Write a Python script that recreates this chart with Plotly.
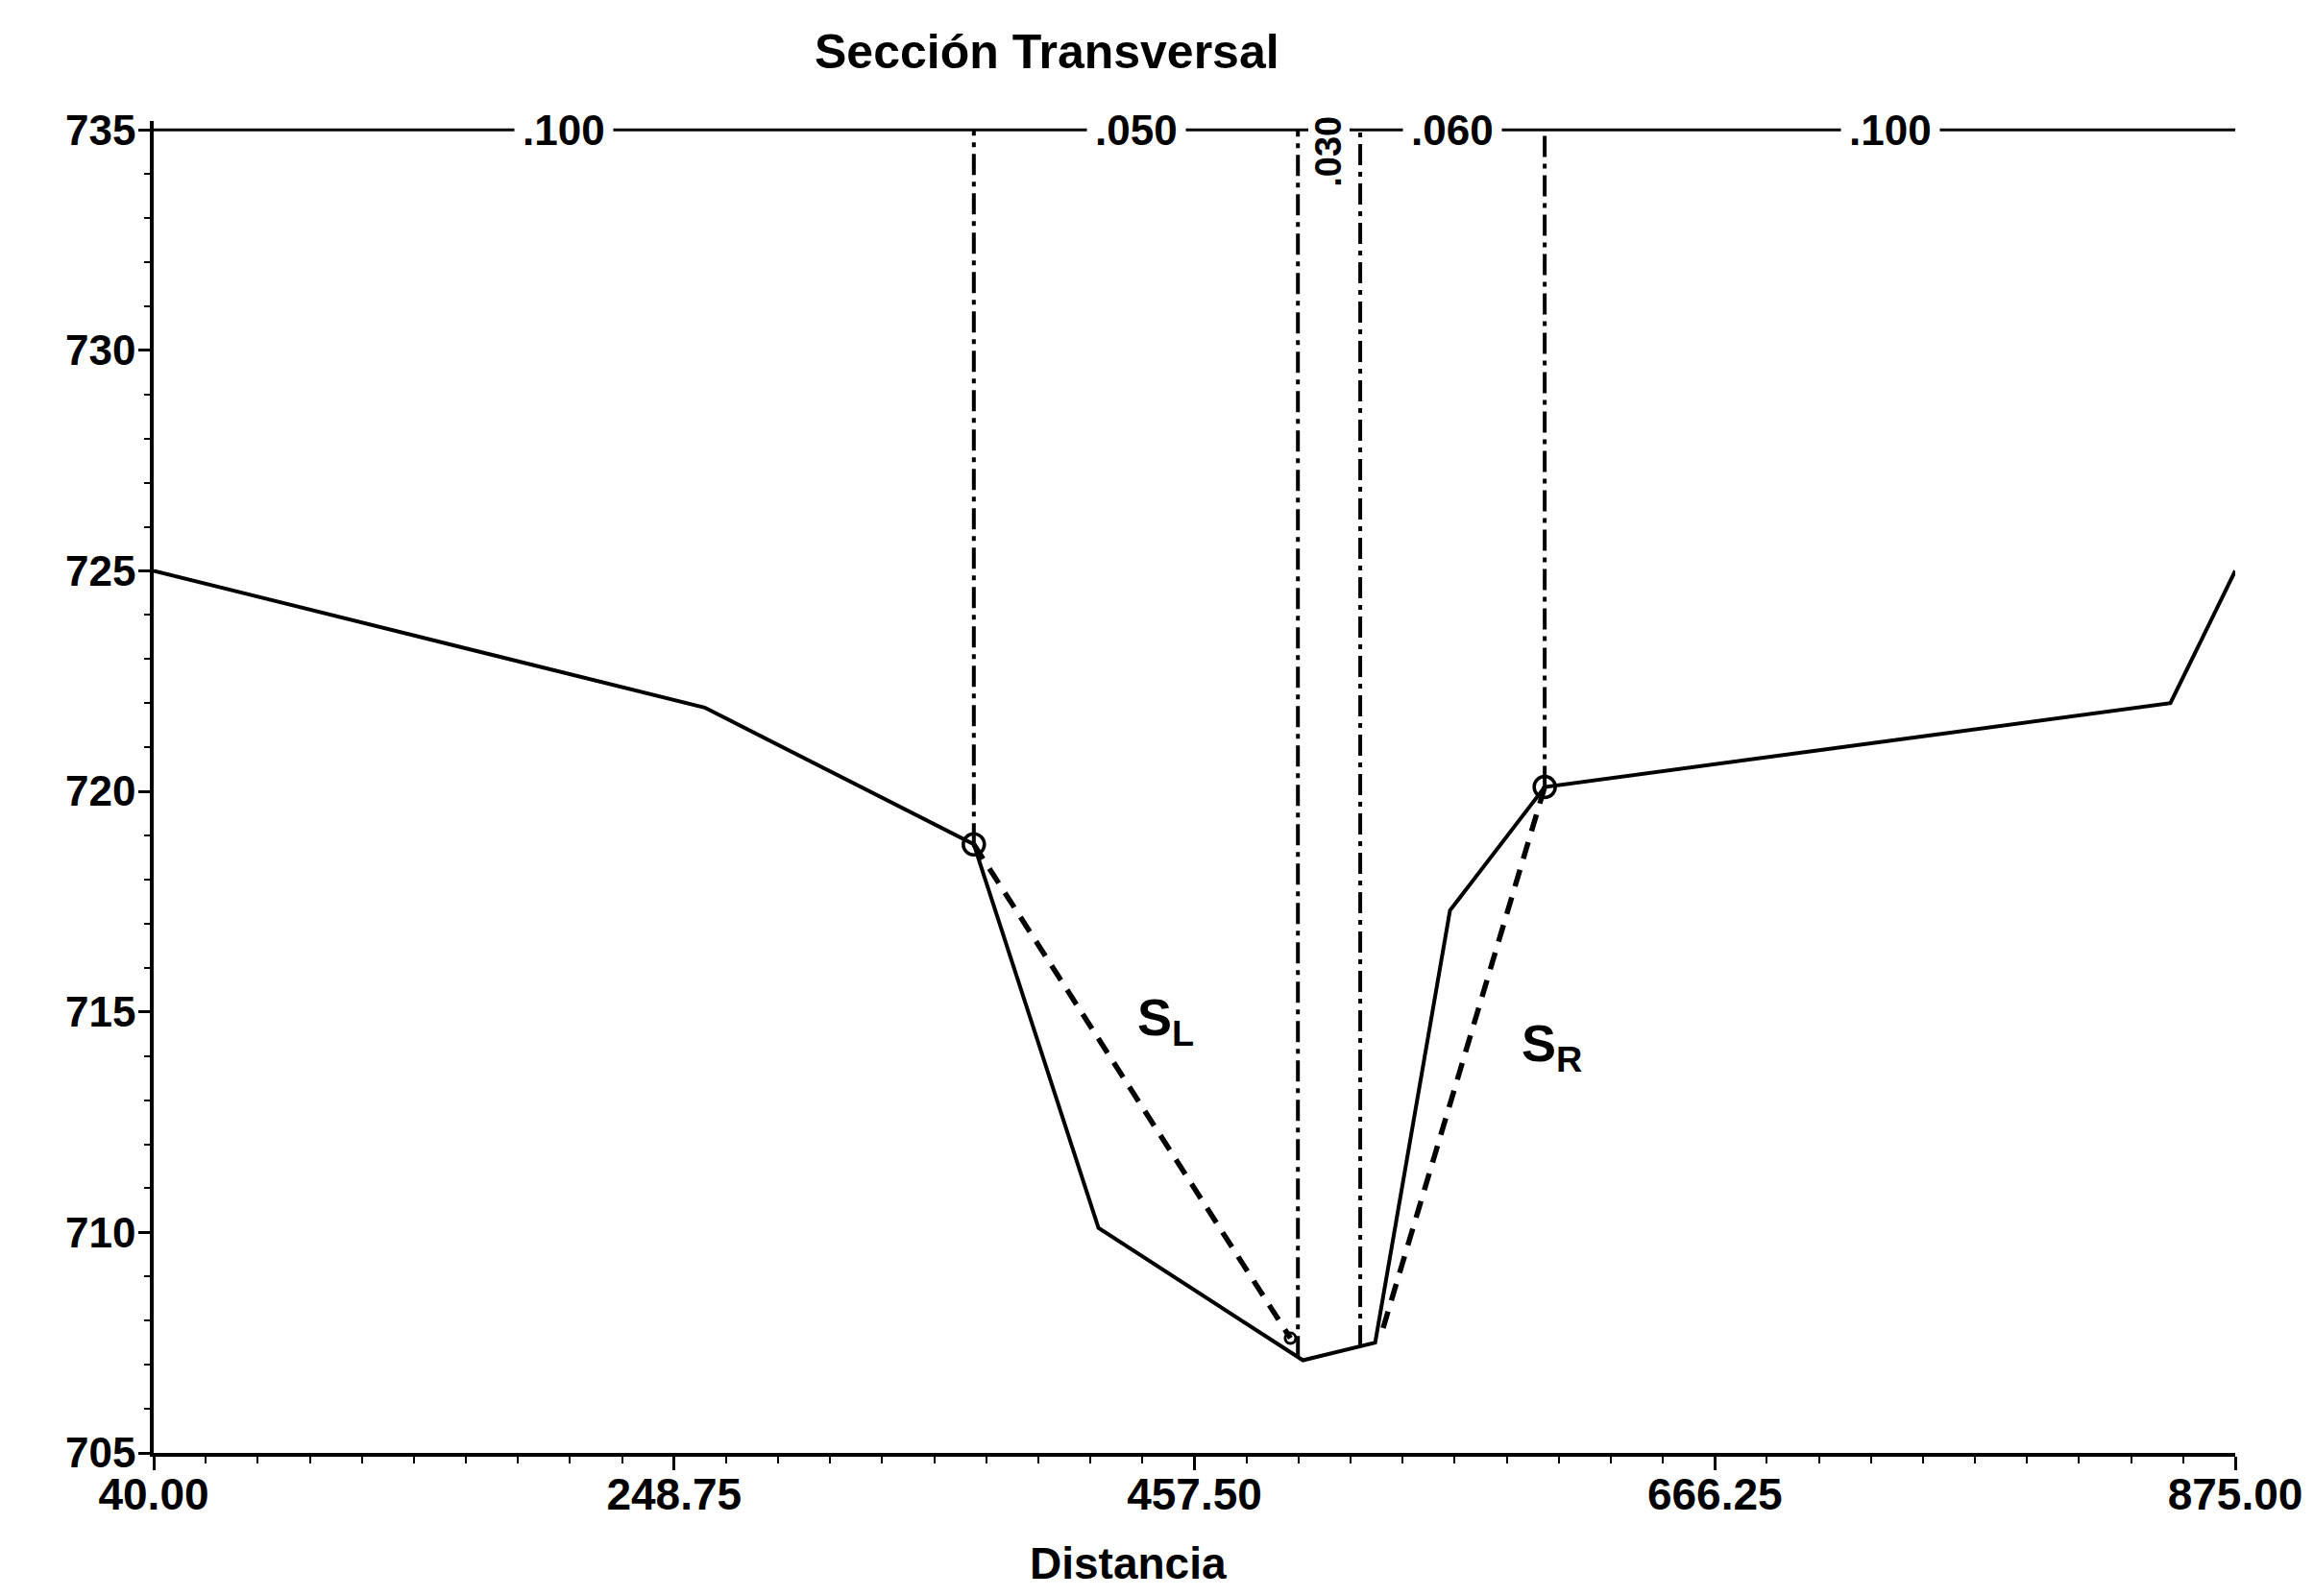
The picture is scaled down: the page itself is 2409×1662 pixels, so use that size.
import numpy as np
import plotly.graph_objects as go

# ---- data ----
station = [40, 261, 369, 419, 501, 530, 560, 598, 849, 875]
elevation = [725.0, 721.9, 718.8, 710.1, 707.1, 707.5, 717.3, 720.1, 722.0, 725.0]

bank_station = [369, 598]
bank_elev = [718.8, 720.1]

n_breaks = [40, 369, 499, 524, 598, 875]
n_values = [".100", ".050", ".030", ".060", ".100"]
n_angles = [0, 0, -90, 0, 0]
top_elev = 735

sl_x = [369, 496]
sl_y = [718.8, 707.6]
sr_x = [598, 533]
sr_y = [720.1, 707.8]

x_tickvals = [40.0, 248.75, 457.5, 666.25, 875.0]
x_ticktext = ["40.00", "248.75", "457.50", "666.25", "875.00"]
y_tickvals = [705, 710, 715, 720, 725, 730, 735]

FONT = "Liberation Sans"
BLACK = "#000000"

fig = go.Figure()

# Top Manning's n line
fig.add_trace(go.Scatter(x=[n_breaks[0], n_breaks[-1]], y=[top_elev, top_elev],
                         mode="lines", line=dict(color=BLACK, width=3),
                         hoverinfo="skip", showlegend=False))

# Vertical n-break lines (interior) from ground up to top
for xb in n_breaks[1:-1]:
    g = float(np.interp(xb, station, elevation))
    fig.add_trace(go.Scatter(x=[xb, xb], y=[g, top_elev], mode="lines",
                             line=dict(color=BLACK, width=4, dash="22px,7px,5px,7px"),
                             hoverinfo="skip", showlegend=False))

# Ground profile
fig.add_trace(go.Scatter(x=station, y=elevation, mode="lines",
                         line=dict(color=BLACK, width=4),
                         hoverinfo="skip", showlegend=False))

# Side slope dashed lines
for xs, ys in ((sl_x, sl_y), (sr_x, sr_y)):
    fig.add_trace(go.Scatter(x=xs, y=ys, mode="lines",
                             line=dict(color=BLACK, width=5.5, dash="18px,12px"),
                             hoverinfo="skip", showlegend=False))

# Small end markers of the slope lines
fig.add_trace(go.Scatter(x=[sl_x[1]], y=[sl_y[1]], mode="markers",
                         marker=dict(symbol="circle-open", size=11, color=BLACK,
                                     line=dict(width=3, color=BLACK)),
                         hoverinfo="skip", showlegend=False, cliponaxis=False))

# Bank station markers
fig.add_trace(go.Scatter(x=bank_station, y=bank_elev, mode="markers",
                         marker=dict(symbol="circle-open", size=22, color=BLACK,
                                     line=dict(width=3.5, color=BLACK)),
                         hoverinfo="skip", showlegend=False, cliponaxis=False))

# n-value labels on the top line
for i, lab in enumerate(n_values):
    xc = (n_breaks[i] + n_breaks[i + 1]) / 2
    if n_angles[i] == 0:
        fig.add_annotation(x=xc, y=top_elev, text=lab, showarrow=False,
                           textangle=0, bgcolor="white", borderpad=8,
                           font=dict(family=FONT, size=44, color=BLACK, weight="bold"),
                           xanchor="center", yanchor="middle")
    else:
        fig.add_annotation(x=xc, y=top_elev - 0.5, text=lab, showarrow=False,
                           textangle=-90, bgcolor="white", borderpad=0,
                           font=dict(family=FONT, size=38, color=BLACK, weight="bold"),
                           xanchor="center", yanchor="middle")

# Slope labels
fig.add_annotation(x=446, y=714.8, text="S<sub>L</sub>", showarrow=False,
                   font=dict(family=FONT, size=54, color=BLACK, weight="bold"))
fig.add_annotation(x=601, y=714.2, text="S<sub>R</sub>", showarrow=False,
                   font=dict(family=FONT, size=54, color=BLACK, weight="bold"))

# Title & x label
fig.add_annotation(xref="paper", yref="paper", x=0.429, y=1.052,
                   text="Sección Transversal", showarrow=False,
                   font=dict(family=FONT, size=50, color=BLACK, weight="bold"),
                   xanchor="center", yanchor="middle")
fig.add_annotation(xref="paper", yref="paper", x=0.468, y=-0.083,
                   text="Distancia", showarrow=False,
                   font=dict(family=FONT, size=46, color=BLACK, weight="bold"),
                   xanchor="center", yanchor="middle")

fig.update_layout(
    width=2409, height=1662,
    margin=dict(l=160, r=71, t=126, b=149),
    paper_bgcolor="white", plot_bgcolor="white",
    showlegend=False,
    font=dict(family=FONT, size=44, color=BLACK, weight="bold"),
)
fig.update_xaxes(range=[40, 875], showgrid=False, zeroline=False,
                 showline=True, linecolor=BLACK, linewidth=3.5,
                 tickvals=x_tickvals, ticktext=x_ticktext,
                 ticks="outside", ticklen=14, tickwidth=3, tickcolor=BLACK,
                 ticklabelstandoff=-14,
                 minor=dict(ticks="outside", ticklen=7, tickwidth=2,
                            tickcolor=BLACK, tick0=40, dtick=20.875),
                 tickfont=dict(family=FONT, size=46, color=BLACK, weight="bold"))
fig.update_yaxes(range=[705, 735.2], showgrid=False, zeroline=False,
                 showline=True, linecolor=BLACK, linewidth=3.5,
                 tickvals=y_tickvals,
                 ticks="outside", ticklen=12, tickwidth=3, tickcolor=BLACK,
                 ticklabelstandoff=-6,
                 minor=dict(ticks="outside", ticklen=6, tickwidth=2,
                            tickcolor=BLACK, tick0=705, dtick=1),
                 tickfont=dict(family=FONT, size=44, color=BLACK, weight="bold"))

fig.write_html("out.html")
